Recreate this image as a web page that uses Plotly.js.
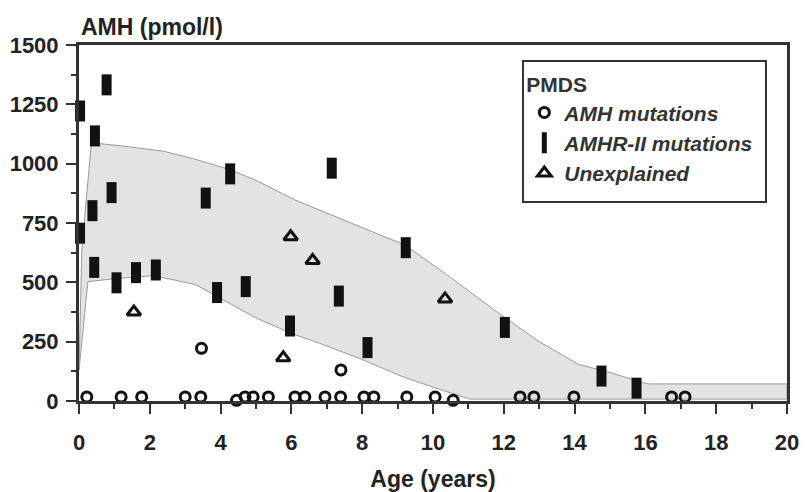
<!DOCTYPE html>
<html>
<head>
<meta charset="utf-8">
<script src="https://cdn.plot.ly/plotly-3.0.1.min.js"></script>
<style>
  html, body { margin: 0; padding: 0; background: #fff; }
  #chart { width: 806px; height: 492px; }
</style>
</head>
<body>
<div id="chart"></div>
<script>
// ---- Data ----
const amhAge = [0.22, 1.19, 1.77, 3.0, 3.44, 3.46, 4.45, 4.69, 4.92, 5.35, 6.1, 6.38, 6.95, 7.39, 7.4, 8.05, 8.33, 9.26, 10.06, 10.57, 12.46, 12.85, 13.98, 16.74, 17.12];
const amhVal = [17, 17, 17, 17, 17, 222, 3, 17, 17, 17, 17, 17, 17, 17, 131, 17, 17, 17, 17, 3, 17, 17, 17, 17, 17];

const amhr2Age = [0.03, 0.78, 0.45, 0.38, 0.03, 0.92, 0.43, 1.06, 1.61, 2.17, 3.58, 4.27, 3.9, 4.71, 7.14, 7.34, 5.96, 9.23, 12.03, 8.15, 14.76, 15.75];
const amhr2Val = [1222, 1332, 1117, 802, 707, 878, 563, 498, 541, 552, 855, 957, 457, 482, 981, 442, 316, 646, 310, 225, 105, 54];

const unexAge = [1.55, 5.77, 5.98, 6.6, 10.34];
const unexVal = [375, 182, 692, 592, 430];

// Normal-range band (upper and lower limits)
const bandUpperAge = [0, 0.08, 0.35, 1.2, 2.4, 3.2, 4.2, 5.0, 6.1, 7.5, 8.5, 9.2, 10.5, 11.9, 13.0, 14.1, 15.0, 15.9, 16.1, 20];
const bandUpperVal = [130, 640, 1088, 1075, 1052, 1022, 978, 930, 847, 760, 700, 658, 520, 365, 250, 155, 120, 78, 72, 72];
const bandLowerAge = [0, 0.25, 1.0, 2.1, 2.85, 3.3, 4.1, 5.0, 6.0, 6.8, 8.0, 9.1, 10.0, 11.05, 20];
const bandLowerVal = [130, 503, 515, 528, 505, 490, 426, 350, 285, 243, 175, 105, 58, 8, 8];

const xTicks = [0, 2, 4, 6, 8, 10, 12, 14, 16, 18, 20];
const yTicks = [0, 250, 500, 750, 1000, 1250, 1500];

const legendTitle = 'PMDS';
const seriesNames = ['AMH mutations', 'AMHR-II mutations', 'Unexplained'];

// ---- Build band polygon ----
const bandX = bandUpperAge.concat(bandLowerAge.slice().reverse());
const bandY = bandUpperVal.concat(bandLowerVal.slice().reverse());

const FONT = '"Liberation Sans", Arial, sans-serif';
const INK = '#111';
const AXIS = '#333';

const traces = [
  {
    x: bandX, y: bandY, type: 'scatter', mode: 'lines',
    fill: 'toself', fillcolor: '#e3e3e3',
    line: {color: '#9a9a9a', width: 1},
    showlegend: false, hoverinfo: 'skip'
  },
  {
    name: seriesNames[0], x: amhAge, y: amhVal, type: 'scatter', mode: 'markers',
    cliponaxis: false,
    marker: {symbol: 'circle-open', size: 10, color: INK, line: {color: INK, width: 3}}
  },
  {
    name: seriesNames[1], x: amhr2Age, y: amhr2Val, type: 'scatter', mode: 'markers',
    cliponaxis: false,
    marker: {symbol: 'line-ns', size: 15, color: INK, line: {color: INK, width: 10}}
  },
  {
    name: seriesNames[2], x: unexAge, y: unexVal, type: 'scatter', mode: 'markers',
    cliponaxis: false,
    marker: {symbol: 'triangle-up-open', size: 12, color: INK, line: {color: INK, width: 3}}
  }
];

const layout = {
  width: 806, height: 492,
  margin: {l: 79, r: 19, t: 45, b: 91},
  paper_bgcolor: '#fff', plot_bgcolor: '#fff',
  font: {family: FONT, color: '#222'},
  showlegend: true,
  legend: {
    x: 0.629, y: 0.944, xanchor: 'left', yanchor: 'top',
    bgcolor: 'rgba(0,0,0,0)', borderwidth: 0,
    title: {text: legendTitle, side: 'top', font: {family: FONT, size: 21, color: '#333', weight: 'bold', style: 'normal'}},
    font: {family: FONT, size: 21, color: '#333', style: 'italic', weight: 'bold'},
    itemwidth: 30
  },
  shapes: [{
    type: 'rect', xref: 'paper', yref: 'paper',
    x0: 0.6271, x1: 0.9703, y0: 0.559, y1: 0.9551,
    line: {color: AXIS, width: 2}, fillcolor: '#fff', layer: 'above'
  }],
  xaxis: {
    range: [0, 20], tickvals: xTicks, ticktext: xTicks.map(String),
    showgrid: false, zeroline: false,
    showline: true, linecolor: AXIS, linewidth: 3, mirror: true,
    ticks: 'outside', ticklen: 10, tickwidth: 2, tickcolor: AXIS,
    ticklabelstandoff: 10,
    minor: {dtick: 1, tick0: 0, ticks: 'outside', ticklen: 5, tickwidth: 2, tickcolor: AXIS},
    tickfont: {family: FONT, size: 22, color: '#222', weight: 'bold'},
    title: {text: 'Age (years)', standoff: 18, font: {family: FONT, size: 23, color: '#222', weight: 'bold'}},
    automargin: false, fixedrange: true
  },
  yaxis: {
    range: [0, 1500], tickvals: yTicks, ticktext: yTicks.map(String),
    showgrid: false, zeroline: false,
    showline: true, linecolor: AXIS, linewidth: 3, mirror: true,
    ticks: 'outside', ticklen: 10, tickwidth: 2, tickcolor: AXIS,
    ticklabelstandoff: 3,
    minor: {dtick: 125, tick0: 0, ticks: 'outside', ticklen: 5, tickwidth: 2, tickcolor: AXIS},
    tickfont: {family: FONT, size: 22, color: '#222', weight: 'bold'},
    automargin: false, fixedrange: true
  },
  annotations: [{
    text: 'AMH (pmol/l)', xref: 'paper', yref: 'paper', x: 0, y: 1,
    xanchor: 'left', yanchor: 'middle', yshift: 18, showarrow: false,
    font: {family: FONT, size: 23, color: '#222', weight: 'bold'}
  }]
};

Plotly.newPlot('chart', traces, layout, {staticPlot: true, displayModeBar: false});
</script>
</body>
</html>
